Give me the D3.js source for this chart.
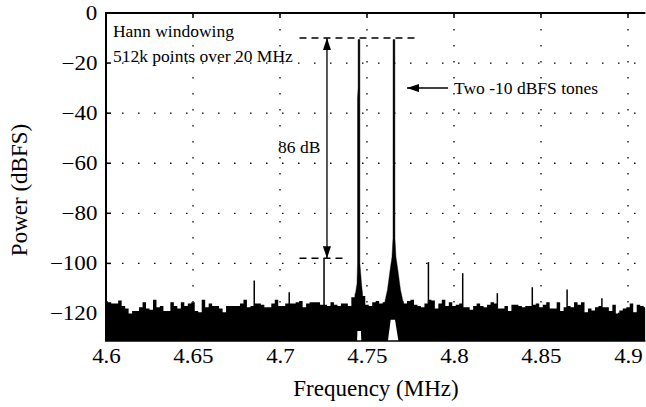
<!DOCTYPE html>
<html>
<head>
<meta charset="utf-8">
<script src="https://cdn.jsdelivr.net/npm/d3@7"></script>
<style>
  body { margin: 0; background: #fff; }
  svg { display: block; font-family: "Liberation Serif", "DejaVu Serif", serif; }
  .tick text { font-family: "Liberation Serif", serif; font-size: 20px; fill: #000; }
  .grid line { stroke: #000; stroke-width: 1.3; stroke-dasharray: 1.5,14.5; }
  .note { font-size: 17.5px; fill: #000; }
  .label { font-size: 23px; fill: #000; }
</style>
</head>
<body>
<svg id="chart" width="646" height="407"></svg>
<script>
// noise floor upper envelope, sampled every 0.002 MHz from 4.6 MHz (dBFS)
const noiseStart = 4.6
const noiseStep = 0.002
const noiseTop = [
  -115,-115.5,-116,-116,-114.8,-117,-118,-120,-119,-119,-117.5,-115.5,-118,-118.5,-114.5,-117.5,
  -117,-119,-119,-115.5,-117,-118,-115.5,-117,-116,-115.5,-119,-119.5,-114.5,-117.5,-116,
  -117,-117,-118,-119.5,-117,-117,-117,-117,-116,-114.5,-117.5,-117,-116,-116,-116.5,-117.5,
  -117.5,-116,-114.5,-117,-117,-116,-116,-116,-115.5,-115,-117.5,-116,-115.5,-115.5,-115.5,
  -116.5,-116.5,-117,-115.5,-116.5,-117,-116,-116,-117,-113.5,-112,-111,-113,-116.5,-117,
  -115.5,-115,-116,-115.5,-113,-110,-110,-112,-115,-116,-115,-114.5,-116.5,-117,-117.5,-116,
  -114.5,-114.8,-118,-116,-114.5,-117,-115.5,-117,-116.5,-116,-117.5,-117.5,-118.5,-117,-116,
  -117,-117.5,-116.5,-115.5,-116,-118,-118,-117,-119,-116.5,-116.5,-117,-117.5,-117,-117,-116.5,
  -116,-117.5,-116.5,-115.5,-118,-118,-115.5,-119,-117.5,-117,-117.5,-115.5,-116.5,-115.5,-119.5,
  -118,-118.8,-117.5,-117,-117.5,-117.5,-119,-116.5,-120,-118.8,-118,-117.5,-116,-119.5,-116.5,
  -117,-117.5
]

// discrete spurs above the floor
const spurFreq  = [4.6852, 4.7053, 4.7253, 4.7853, 4.8050, 4.8249, 4.8450, 4.8650, 4.8850]
const spurLevel = [-106.8, -111.5, -98, -99.5, -103.9, -111.9, -109.5, -110.4, -113.9]

// the two tones and their skirt shapes (offset in MHz from tone, level dBFS)
const toneFreq = [4.7454, 4.7655]
const tone1Offset = [-0.00287, -0.00115, -0.00086, -0.00086, -0.00052, -0.00052, 0.00052, 0.00052, 0.00144, 0.00259]
const tone1Level  = [-116, -108, -100, -34, -30, -10.6, -10.6, -100, -108, -116]
const tone2Offset = [-0.00575, -0.00374, -0.0023, -0.00115, -0.00057, -0.00052, 0.00052, 0.00057, 0.00115, 0.0023, 0.00374, 0.00575]
const tone2Level  = [-117, -110.5, -103, -97.5, -90, -10.6, -10.6, -90, -97.5, -103, -110.5, -117]

// empty notches under each tone (offset in MHz, level dBFS)
const gap1Offset = [-0.0013, -0.0009, 0.0011, 0.0016]
const gap1Level  = [-135, -127, -127, -135]
const gap2Offset = [-0.0042, -0.0019, 0.0006, 0.0035]
const gap2Level  = [-135, -122.5, -122.5, -135]

const xTicks = [4.6, 4.65, 4.7, 4.75, 4.8, 4.85, 4.9]
const yTicks = [0, -20, -40, -60, -80, -100, -120]

const svg = d3.select("#chart")
const mLeft = 106, mTop = 13, mBottom = 341
const x = d3.scaleLinear().domain([4.6, 4.91]).range([mLeft, mLeft + 0.31 * 1740])
const y = d3.scaleLinear().domain([-131, 0]).range([mBottom, mTop])
const mRight = x(4.91)

const defs = svg.append("defs")
defs.append("clipPath").attr("id", "plot")
  .append("rect").attr("x", mLeft).attr("y", mTop).attr("width", mRight - mLeft).attr("height", mBottom - mTop)

// grid
svg.append("g").attr("class", "grid")
  .selectAll("line").data(xTicks.slice(1)).join("line")
  .attr("x1", d => x(d)).attr("x2", d => x(d)).attr("y1", mTop).attr("y2", mBottom)
svg.append("g").attr("class", "grid")
  .selectAll("line").data(yTicks.slice(1)).join("line")
  .attr("x1", mLeft).attr("x2", mRight).attr("y1", d => y(d)).attr("y2", d => y(d))

const plot = svg.append("g").attr("clip-path", "url(#plot)")

// noise floor
const area = d3.area()
  .x((d, i) => x(noiseStart + i * noiseStep))
  .y0(y(-131)).y1(d => y(d))
  .curve(d3.curveStep)
plot.append("path").datum(noiseTop).attr("d", area).attr("fill", "#000")

// spurs
plot.selectAll(".spur").data(spurFreq).join("line")
  .attr("x1", d => x(d)).attr("x2", d => x(d))
  .attr("y1", y(-118)).attr("y2", (d, i) => y(spurLevel[i]))
  .attr("stroke", "#000").attr("stroke-width", 1.5)

// notches below the tones
const poly = d3.line().x(d => x(d[0])).y(d => y(d[1]))
const gaps = [[gap1Offset, gap1Level], [gap2Offset, gap2Level]]
gaps.forEach(([off, lev], t) => {
  plot.append("path")
    .attr("d", poly(off.map((o, i) => [toneFreq[t] + o, lev[i]])) + "Z")
    .attr("fill", "#fff")
})

// tones
const tones = [[tone1Offset, tone1Level], [tone2Offset, tone2Level]]
tones.forEach(([off, lev], t) => {
  plot.append("path")
    .attr("d", poly(off.map((o, i) => [toneFreq[t] + o, lev[i]])) + "Z")
    .attr("fill", "#000").attr("stroke", "#000").attr("stroke-width", 0.4)
})

// axes (labels in the source are a little wider than Times, so stretch them)
const xAxis = d3.axisBottom(x).tickValues(xTicks).tickSize(0).tickPadding(8)
  .tickFormat(d3.format("~g"))
svg.append("g").attr("transform", `translate(0,${mBottom})`).call(xAxis)
  .attr("font-family", null).attr("font-size", null)
  .call(g => g.select(".domain").remove())
  .call(g => g.selectAll(".tick text").attr("transform", "scale(1.15,1)"))
const yAxis = d3.axisLeft(y).tickValues(yTicks).tickSize(0).tickPadding(7.5)
svg.append("g").attr("transform", `translate(${mLeft},0)`).call(yAxis)
  .attr("font-family", null).attr("font-size", null)
  .call(g => g.select(".domain").remove())
  .call(g => g.selectAll(".tick text").attr("transform", "scale(1.15,1)"))

// frame lines and inner ticks
svg.append("line").attr("x1", mLeft).attr("x2", mLeft).attr("y1", mTop - 1).attr("y2", mBottom)
  .attr("stroke", "#000").attr("stroke-width", 2)
svg.append("line").attr("x1", mLeft - 1).attr("x2", mRight).attr("y1", mTop).attr("y2", mTop)
  .attr("stroke", "#000").attr("stroke-width", 2)
svg.append("line").attr("x1", mLeft - 1).attr("x2", mRight).attr("y1", mBottom).attr("y2", mBottom)
  .attr("stroke", "#000").attr("stroke-width", 1.5)
svg.selectAll(".xt").data(xTicks.slice(1)).join("line")
  .attr("x1", d => x(d)).attr("x2", d => x(d)).attr("y1", mTop).attr("y2", mTop + 5)
  .attr("stroke", "#000").attr("stroke-width", 1.5)
svg.selectAll(".yt").data(yTicks.slice(1)).join("line")
  .attr("x1", mLeft).attr("x2", mLeft + 5).attr("y1", d => y(d)).attr("y2", d => y(d))
  .attr("stroke", "#000").attr("stroke-width", 1.5)

// labels
svg.append("text").attr("class", "label").attr("text-anchor", "middle")
  .attr("x", 376).attr("y", 396).text("Frequency (MHz)")
svg.append("text").attr("class", "label").attr("text-anchor", "middle")
  .attr("transform", "translate(27,190) rotate(-90)").text("Power (dBFS)")

// annotations
defs.append("marker").attr("id", "head").attr("viewBox", "0 0 12 8")
  .attr("refX", 12).attr("refY", 4).attr("markerWidth", 12).attr("markerHeight", 8)
  .attr("markerUnits", "userSpaceOnUse").attr("orient", "auto-start-reverse")
  .append("path").attr("d", "M0,0L12,4L0,8Z").attr("fill", "#000")

svg.append("text").attr("class", "note").attr("x", x(4.604)).attr("y", y(-9.6)).text("Hann windowing")
svg.append("text").attr("class", "note").attr("x", x(4.604)).attr("y", y(-19.6)).text("512k points over 20 MHz")

svg.append("line").attr("x1", x(4.7112)).attr("x2", x(4.7784)).attr("y1", y(-10)).attr("y2", y(-10))
  .attr("stroke", "#000").attr("stroke-width", 1.5).attr("stroke-dasharray", "7,5")
svg.append("line").attr("x1", x(4.7112)).attr("x2", x(4.737)).attr("y1", y(-98)).attr("y2", y(-98))
  .attr("stroke", "#000").attr("stroke-width", 1.5).attr("stroke-dasharray", "7,5")
svg.append("line").attr("x1", x(4.727)).attr("x2", x(4.727)).attr("y1", y(-10)).attr("y2", y(-98))
  .attr("stroke", "#000").attr("stroke-width", 1.3)
  .attr("marker-start", "url(#head)").attr("marker-end", "url(#head)")
svg.append("text").attr("class", "note").attr("text-anchor", "end")
  .attr("x", x(4.7232)).attr("y", y(-56)).text("86 dB")

svg.append("line").attr("x1", x(4.7966)).attr("x2", x(4.773)).attr("y1", y(-30)).attr("y2", y(-30))
  .attr("stroke", "#000").attr("stroke-width", 1.5).attr("marker-end", "url(#head)")
svg.append("text").attr("class", "note").attr("x", x(4.8)).attr("y", y(-32.4)).text("Two -10 dBFS tones")
</script>
</body>
</html>
